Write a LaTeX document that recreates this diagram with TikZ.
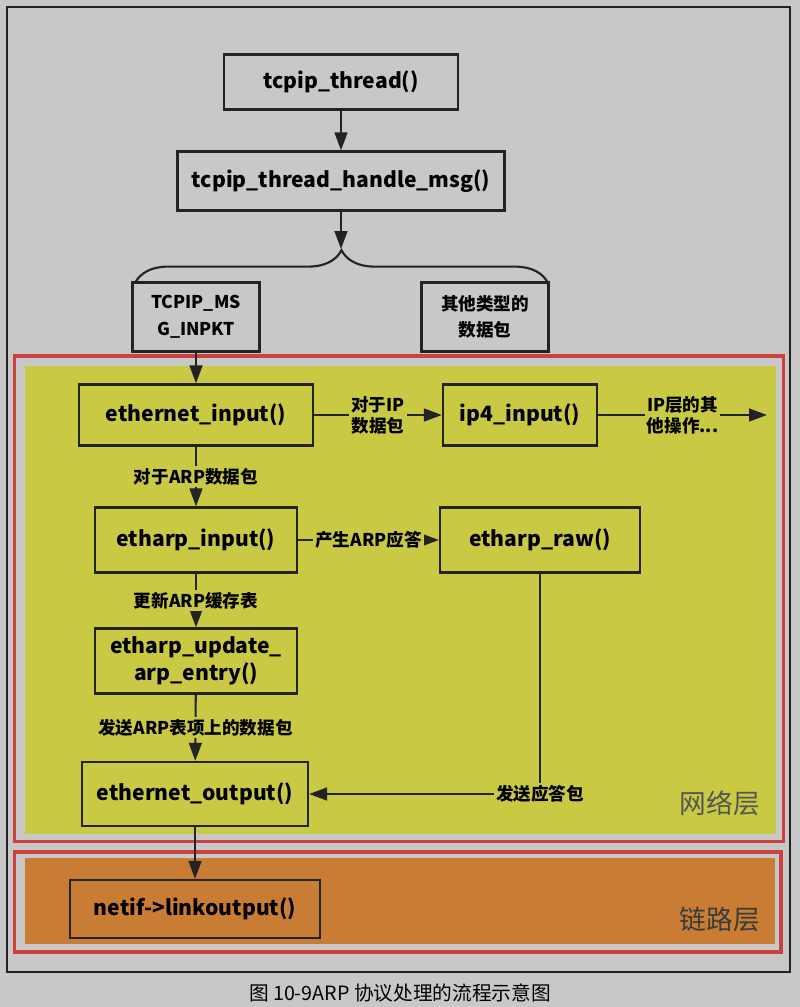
\documentclass[tikz,border=0pt]{standalone}
\usepackage{fontspec}
\setmainfont{Noto Sans CJK SC}
\usetikzlibrary{arrows.meta, decorations.pathreplacing}
\definecolor{bggray}{RGB}{200,200,200}
\definecolor{netyellow}{RGB}{201,201,68}
\definecolor{linkorange}{RGB}{201,125,52}
\definecolor{framered}{RGB}{204,64,64}
\definecolor{boxline}{RGB}{35,35,35}
\definecolor{layertext}{RGB}{85,85,85}

\begin{document}
\begin{tikzpicture}[x=0.025cm, y=-0.025cm,
  fnbox/.style={draw=boxline, line width=1.6pt, align=center, inner sep=0pt,
    font=\bfseries\fontsize{15}{19}\selectfont},
  boxsize/.style 2 args={minimum width=#1*0.025cm, minimum height=#2*0.025cm},
  lbl/.style={font=\bfseries\fontsize{12.5}{15}\selectfont, align=center,
    inner sep=1.5pt, fill=netyellow},
  arr/.style={draw=boxline, line width=1.5pt, -{Triangle[length=0.45cm, width=0.32cm]}}]
  % 背景与外框
  \fill[bggray] (0,0) rectangle (800,1007);
  \draw[boxline, line width=1pt] (7,7) rectangle (790,972);

  % 网络层
  \draw[framered, line width=2.2pt] (14.5,356) rectangle (783.5,841.5);
  \fill[netyellow] (25,366) rectangle (776,834);
  \node[font=\fontsize{19}{20}\selectfont, text=layertext] at (720,803) {网络层};

  % 链路层
  \draw[framered, line width=2.2pt] (14.5,852) rectangle (781,952);
  \fill[linkorange] (25,858) rectangle (775,944);
  \node[font=\fontsize{19}{20}\selectfont, text=layertext!70!black] at (720,919) {链路层};

  % 函数框
  \node[fnbox, boxsize={234}{55}] (thread) at (341,82) {tcpip\_thread()};
  \node[fnbox, boxsize={327}{59}] (handle) at (341,181) {tcpip\_thread\_handle\_msg()};
  \node[fnbox, boxsize={127}{69}, font=\bfseries\fontsize{12.5}{19}\selectfont] (inpkt) at (196,317) {TCPIP\_MS\\G\_INPKT};
  \node[fnbox, boxsize={127}{69}, font=\bfseries\fontsize{12.5}{19}\selectfont] (other) at (485,317) {其他类型的\\数据包};
  \node[fnbox, boxsize={234}{61}] (ethin) at (196,415) {ethernet\_input()};
  \node[fnbox, boxsize={154}{61}] (ip4) at (520,415) {ip4\_input()};
  \node[fnbox, boxsize={202}{65}] (arpin) at (196,540) {etharp\_input()};
  \node[fnbox, boxsize={200}{65}] (raw) at (540,540) {etharp\_raw()};
  \node[fnbox, boxsize={202}{65}] (update) at (196,661) {etharp\_update\_\\arp\_entry()};
  \node[fnbox, boxsize={226}{64}] (ethout) at (195,794) {ethernet\_output()};
  \node[fnbox, boxsize={250}{58}] (netif) at (195,909) {netif->linkoutput()};

  % 消息分发
  \coordinate (bracetip) at (341,249);
  \coordinate (ipnext) at (767,415);
  \draw[arr] (thread) -- (handle);
  \draw[arr] (handle) -- (bracetip);
  \draw[boxline, line width=1.5pt, decorate, decoration={brace, amplitude=0.82cm}]
    (135,283) -- (548,283);
  \draw[arr] (inpkt) -- (ethin);

  % 处理流程
  \draw[arr] (ethin) -- node[lbl] {对于IP\\数据包} (ip4);
  \draw[arr] (ip4) -- node[lbl] {IP层的其\\他操作...} (ipnext);
  \draw[arr] (ethin) -- node[lbl] {对于ARP数据包} (arpin);
  \draw[arr] (arpin) -- node[lbl] {产生ARP应答} (raw);
  \draw[arr] (arpin) -- node[lbl] {更新ARP缓存表} (update);
  \draw[arr] (update) -- node[lbl] {发送ARP表项上的数据包} (ethout);
  \draw[arr] (raw) |- node[lbl] {发送应答包} (ethout);
  \draw[arr] (ethout) -- (netif);

  % 图题
  \node[font=\fontsize{14}{16}\selectfont] (caption) at (400,993) {图 10-9ARP 协议处理的流程示意图};
\end{tikzpicture}
\end{document}
